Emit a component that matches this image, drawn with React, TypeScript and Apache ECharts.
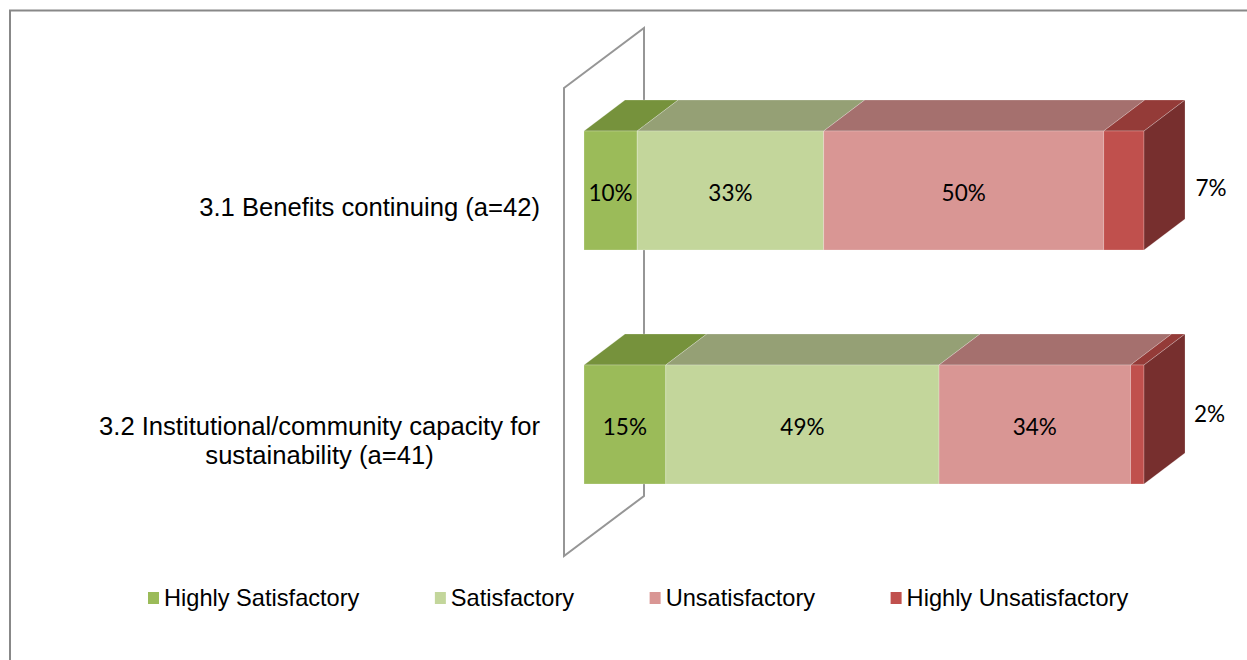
import React, { useEffect, useRef } from "react";
import * as echarts from "echarts";

const categories = [
  "3.1 Benefits continuing (a=42)",
  "{c|3.2 Institutional/community capacity for}\n{c|sustainability (a=41)}",
];
const seriesNames = ["Highly Satisfactory", "Satisfactory", "Unsatisfactory", "Highly Unsatisfactory"];
const highlySatisfactory = [9.5, 14.6];
const satisfactory = [33.3, 48.8];
const unsatisfactory = [50.0, 34.2];
const highlyUnsatisfactory = [7.2, 2.4];
const labelsHS = ["10%", "15%"];
const labelsS = ["33%", "49%"];
const labelsU = ["50%", "34%"];
const labelsHU = ["7%", "2%"];

const frontColors = ["#9BBB59", "#C3D69B", "#D99694", "#C0504D"];
const topColors = ["#76923C", "#95A075", "#A5706E", "#943B38"];
const sideColor = "#772F2E";
const EDGE = "rgba(255,255,255,0.22)";
const DEPTH_X = 41;
const DEPTH_Y = -31;
const BAR_RATIO = 119 / 234;
const LABEL_FONT = "Lato, 'Open Sans', sans-serif";
const AXIS_FONT = "'Liberation Sans', Arial, sans-serif";
const outsideOffsets = [
  { x: 67, y: -5 },
  { x: 65.5, y: -13 },
];

const allValues = [highlySatisfactory, satisfactory, unsatisfactory, highlyUnsatisfactory];
const allLabels = [labelsHS, labelsS, labelsU, labelsHU];

function makeSeries(idx: number) {
  const data = categories.map((_, cat) => {
    let start = 0;
    for (let i = 0; i < idx; i++) start += allValues[i][cat];
    return [cat, start, start + allValues[idx][cat]];
  });
  const isLast = idx === allValues.length - 1;
  return {
    type: "custom",
    name: seriesNames[idx],
    silent: true,
    z: 10,
    itemStyle: { color: frontColors[idx] },
    encode: { x: [1, 2], y: 0 },
    data,
    renderItem: (_params: any, api: any) => {
      const cat = api.value(0);
      const a = api.coord([api.value(1), cat]);
      const b = api.coord([api.value(2), cat]);
      const h = api.size([0, 1])[1] * BAR_RATIO;
      const top = a[1] - h / 2;
      const bot = a[1] + h / 2;
      const x0 = a[0];
      const x1 = b[0];
      const children: any[] = [
        {
          type: "polygon",
          shape: {
            points: [
              [x0, top],
              [x1, top],
              [x1 + DEPTH_X, top + DEPTH_Y],
              [x0 + DEPTH_X, top + DEPTH_Y],
            ],
          },
          style: { fill: topColors[idx], stroke: EDGE, lineWidth: 1 },
        },
        {
          type: "rect",
          shape: { x: x0, y: top, width: x1 - x0, height: h },
          style: { fill: frontColors[idx], stroke: EDGE, lineWidth: 1 },
        },
      ];
      if (isLast) {
        children.push({
          type: "polygon",
          shape: {
            points: [
              [x1, top],
              [x1 + DEPTH_X, top + DEPTH_Y],
              [x1 + DEPTH_X, bot + DEPTH_Y],
              [x1, bot],
            ],
          },
          style: { fill: sideColor, stroke: EDGE, lineWidth: 1 },
        });
      }
      const off = isLast ? outsideOffsets[cat] : { x: 0, y: 0 };
      children.push({
        type: "text",
        z2: 50,
        style: {
          text: allLabels[idx][cat],
          x: isLast ? x1 + off.x : (x0 + x1) / 2,
          y: a[1] + off.y + 1.5,
          align: "center",
          verticalAlign: "middle",
          fontFamily: LABEL_FONT,
          fontSize: 22.5,
          fill: "#000",
        },
      });
      return { type: "group", children };
    },
  };
}

export default function App() {
  const ref = useRef<HTMLDivElement>(null);
  useEffect(() => {
    const chart = echarts.init(ref.current!, undefined, { renderer: "svg" });
    chart.setOption({
      animation: false,
      backgroundColor: "#fff",
      grid: { left: 584, right: 103, top: 73.5, height: 468, containLabel: false },
      xAxis: { type: "value", min: 0, max: 100, show: false },
      yAxis: {
        type: "category",
        inverse: true,
        data: categories,
        axisLine: { show: false },
        axisTick: { show: false },
        axisLabel: {
          margin: 44,
          align: "right",
          fontFamily: AXIS_FONT,
          fontSize: 25.6,
          lineHeight: 29.5,
          color: "#000",
          padding: [32, 0, 0, 0],
          rich: { c: { align: "center", fontFamily: AXIS_FONT, fontSize: 25.6, lineHeight: 29.5, color: "#000" } },
        },
      },
      legend: {
        left: 143,
        top: 581,
        icon: "rect",
        itemWidth: 11,
        itemHeight: 12,
        itemGap: 75.5,
        selectedMode: false,
        data: seriesNames,
        textStyle: { fontFamily: AXIS_FONT, fontSize: 23.6, color: "#000" },
      },
      graphic: [
        {
          type: "polyline",
          silent: true,
          shape: { points: [[10, 660], [10, 10.5], [1247, 10.5]] },
          style: { fill: "none", stroke: "#888888", lineWidth: 2 },
        },
        {
          type: "polygon",
          silent: true,
          shape: { points: [[564, 88], [644, 28], [644, 496], [564, 556]] },
          style: { fill: "none", stroke: "#969696", lineWidth: 2 },
        },
      ],
      series: allValues.map((_, i) => makeSeries(i)),
    });
    return () => chart.dispose();
  }, []);
  return <div ref={ref} style={{ position: "absolute", left: 0, top: 0, width: 1247, height: 660 }} />;
}
